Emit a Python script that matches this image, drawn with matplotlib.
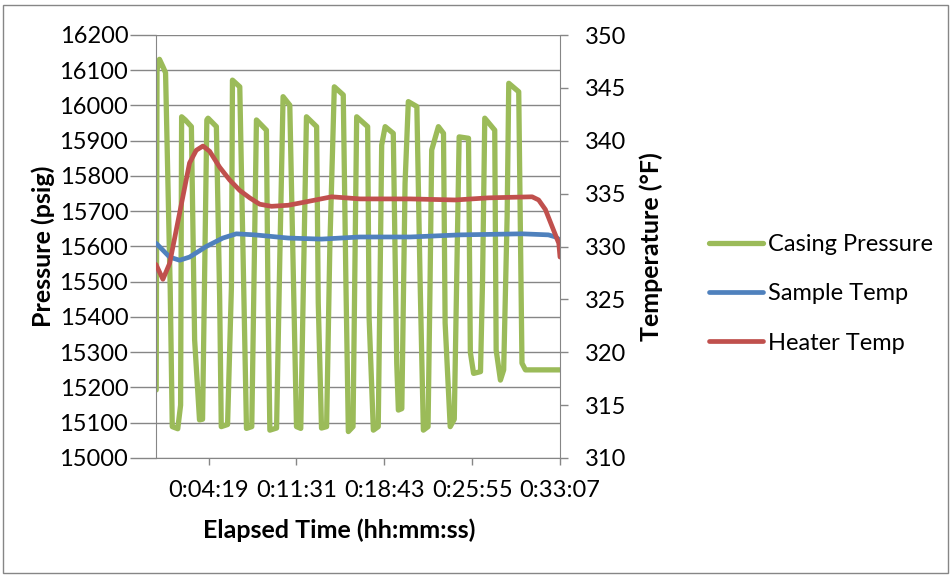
import matplotlib
matplotlib.use("Agg")
import matplotlib.pyplot as plt
from matplotlib.patches import Rectangle

plt.rcParams['font.family'] = ['Lato', 'DejaVu Sans']

# Elapsed time (s) and casing pressure (psig)
pressure_time = [1, 5, 17, 34, 47, 70, 80, 107,
                 121, 126, 144, 174, 190, 214, 229,
                 250, 256, 297, 313, 321, 352,
                 371, 376, 412, 445, 471,
                 494, 543, 551, 560, 593,
                 609, 625, 658, 691, 712,
                 740, 790, 798, 814, 839,
                 855, 877, 921, 934, 946, 969,
                 987, 1041, 1048, 1069, 1093,
                 1102, 1110, 1127, 1167, 1184, 1192, 1209,
                 1225, 1241, 1283, 1299, 1315, 1338,
                 1348, 1356, 1389, 1414, 1422, 1447, 1467,
                 1491, 1537, 1546, 1562, 1596,
                 1606, 1617, 1666, 1673, 1694, 1710,
                 1727, 1735, 1784, 1800, 1817, 1987]
casing_pressure = [15193, 16100, 16131, 16110, 16093, 15477, 15089, 15083,
                   15150, 15968, 15959, 15940, 15335, 15108, 15110,
                   15959, 15964, 15940, 15458, 15089, 15095,
                   15486, 16072, 16053, 15084, 15089,
                   15959, 15930, 15440, 15079, 15085,
                   15571, 16025, 16001, 15089, 15084,
                   15968, 15940, 15440, 15085, 15089,
                   15600, 16053, 16030, 15500, 15075, 15089,
                   15968, 15940, 15400, 15079, 15089,
                   15500, 15888, 15940, 15921, 15269, 15136, 15140,
                   15780, 16011, 15997, 15500, 15079, 15089,
                   15500, 15874, 15940, 15921, 15383, 15089, 15110,
                   15911, 15907, 15300, 15240, 15245,
                   15500, 15964, 15930, 15306, 15221, 15250,
                   15685, 16063, 16039, 15269, 15250, 15250]

# Sample temperature (°F)
sample_time = [1, 67, 116, 165, 247, 329, 395, 486, 650, 814, 1003, 1250,
               1496, 1800, 1930, 1965, 1987]
sample_temp = [330.3, 329.0, 328.7, 329.0, 330.0, 330.8, 331.2, 331.1, 330.8,
               330.7, 330.9, 330.9, 331.1, 331.2, 331.1, 330.9, 330.6]

# Heater temperature (°F)
heater_time = [0, 34, 67, 100, 132, 165, 198, 231, 264, 313, 362, 412, 461,
               510, 568, 650, 732, 864, 1003, 1250, 1472, 1634, 1850, 1882,
               1915, 1948, 1981, 1987]
heater_temp = [328.3, 326.9, 328.4, 331.6, 334.7, 337.9, 339.1, 339.5, 339.0,
               337.5, 336.3, 335.3, 334.6, 334.0, 333.8, 333.9, 334.2, 334.7,
               334.5, 334.5, 334.4, 334.6, 334.7, 334.4, 333.5, 331.9, 330.3,
               329.0]

time_tick_labels = ["0:04:19", "0:11:31", "0:18:43", "0:25:55", "0:33:07"]
pressure_ticks = list(range(15000, 16201, 100))
temp_ticks = list(range(310, 351, 5))


def to_seconds(label):
    h, m, s = (int(v) for v in label.split(":"))
    return h * 3600 + m * 60 + s


GREEN = "#9BBB59"
BLUE = "#4F81BD"
RED = "#C0504D"
GRID = "#868686"

W, H = 953, 577
fig = plt.figure(figsize=(W / 100, H / 100), dpi=100)
left, right, top, bottom = 156, 560, 35, 458
ax1 = fig.add_axes([left / W, 1 - bottom / H, (right - left) / W, (bottom - top) / H])
ax2 = ax1.twinx()

line_kw = dict(solid_joinstyle="round", solid_capstyle="round")
l1, = ax1.plot(pressure_time, casing_pressure, color=GREEN, lw=3.8,
               label="Casing Pressure", **line_kw)
l2, = ax2.plot(sample_time, sample_temp, color=BLUE, lw=3.4,
               label="Sample Temp", **line_kw)
l3, = ax2.plot(heater_time, heater_temp, color=RED, lw=3.4,
               label="Heater Temp", **line_kw)

tick_secs = [to_seconds(t) for t in time_tick_labels]
ax1.set_xlim(0, tick_secs[-1])
ax1.set_xticks(tick_secs)
ax1.set_xticklabels(time_tick_labels)
ax1.set_ylim(15000, 16200)
ax1.set_yticks(pressure_ticks)
ax2.set_ylim(310, 350)
ax2.set_yticks(temp_ticks)

ax1.yaxis.grid(True, color=GRID, lw=1.0)
ax1.set_axisbelow(True)

for sp in ("top", "right"):
    ax1.spines[sp].set_visible(False)
for sp in ("top", "left", "bottom"):
    ax2.spines[sp].set_visible(False)
for sp in ("left", "bottom"):
    ax1.spines[sp].set_color(GRID)
ax2.spines["right"].set_color(GRID)

fs = 17
ax1.tick_params(axis="y", direction="out", length=19, width=1, color=GRID,
                pad=1, labelsize=fs)
ax1.tick_params(axis="x", direction="out", length=5, width=1, color=GRID,
                pad=11, labelsize=fs)
ax2.tick_params(axis="y", direction="out", length=6, width=1, color=GRID,
                pad=12, labelsize=fs)

lab_fs = 18
ax1.set_ylabel("Pressure (psig)", fontsize=lab_fs, fontweight="bold")
ax1.yaxis.set_label_coords((55 - left) / (right - left), 0.5)
ax2.set_ylabel("Temperature (°F)", fontsize=lab_fs, fontweight="bold")
ax2.yaxis.set_label_coords((639 - left) / (right - left), 0.5)
ax1.set_xlabel("Elapsed Time (hh:mm:ss)", fontsize=lab_fs, fontweight="bold")
ax1.xaxis.set_label_coords((339 - left) / (right - left), -(518 - bottom) / (bottom - top))

fig.legend([l1, l2, l3], [l.get_label() for l in (l1, l2, l3)],
           loc="upper left", bbox_to_anchor=(709 / W, 1 - 234 / H),
           bbox_transform=fig.transFigure, frameon=False, fontsize=fs,
           handlelength=2.3, handletextpad=0.22, labelspacing=1.2,
           borderpad=0, borderaxespad=0)

fig.patches.append(Rectangle((3.5 / W, 4.5 / H), (948 - 3.5) / W, (572 - 4.5) / H,
                             transform=fig.transFigure, fill=False,
                             edgecolor=GRID, lw=1.0))

fig.savefig("out.png", dpi=100)
